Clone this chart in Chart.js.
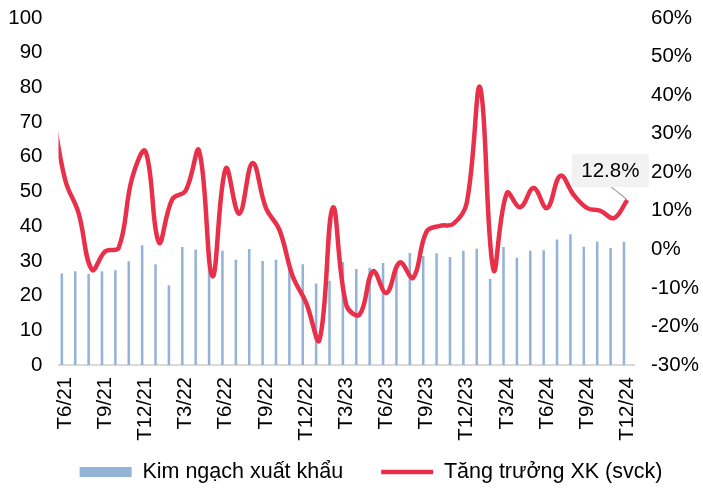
<!DOCTYPE html>
<html>
<head>
<meta charset="utf-8">
<script src="https://cdn.jsdelivr.net/npm/chart.js@4/dist/chart.umd.min.js"></script>
<style>
  html, body { margin: 0; padding: 0; background: #ffffff; }
  #wrap { width: 703px; height: 489px; }
</style>
</head>
<body>
<div id="wrap"><canvas id="c" width="703" height="489"></canvas></div>
<script>
// ---- Data ----
const categories = [
  'T6/21','T7/21','T8/21','T9/21','T10/21','T11/21','T12/21',
  'T1/22','T2/22','T3/22','T4/22','T5/22','T6/22','T7/22','T8/22','T9/22','T10/22','T11/22','T12/22',
  'T1/23','T2/23','T3/23','T4/23','T5/23','T6/23','T7/23','T8/23','T9/23','T10/23','T11/23','T12/23',
  'T1/24','T2/24','T3/24','T4/24','T5/24','T6/24','T7/24','T8/24','T9/24','T10/24','T11/24','T12/24'
];
// Kim ngạch xuất khẩu (left axis)
const exportValue = [
  26.4, 27.0, 26.2, 27.0, 27.3, 29.9, 34.5,
  29.0, 23.0, 34.0, 33.3, 30.9, 32.9, 30.3, 33.4, 30.0, 30.3, 29.0, 29.0,
  23.5, 24.3, 29.7, 27.7, 28.0, 29.4, 29.1, 32.3, 31.4, 32.2, 31.1, 32.9,
  33.5, 24.8, 34.0, 30.9, 32.9, 33.1, 36.2, 37.7, 34.1, 35.6, 33.7, 35.5
];
// Tăng trưởng XK (svck), % (right axis)
const growth = [
  18.0, 9.4, -5.3, -0.5, 0.4, 18.5, 25.4,
  1.8, 13.0, 15.2, 25.6, -7.0, 21.0, 9.2, 22.4, 10.7, 5.1, -7.0, -13.8,
  -23.5, 10.8, -14.4, -16.9, -5.7, -11.3, -3.4, -7.4, 4.6, 6.1, 6.6, 12.0,
  42.0, -5.3, 14.6, 10.9, 15.9, 10.7, 19.1, 14.1, 10.7, 10.0, 8.1, 12.8
];
// value of the month before T6/21 (only its clipped tail is visible at the left edge)
const growthBefore = 37;
const leftTicks = [0, 10, 20, 30, 40, 50, 60, 70, 80, 90, 100];
const rightTicks = [-30, -20, -10, 0, 10, 20, 30, 40, 50, 60];

// ---- Chart ----
const FONT = '"Liberation Sans", Arial, sans-serif';
const BAR_COLOR = '#95B3D7';
const LINE_COLOR = '#E9304B';
const LEGEND_PAD = 38;
const LEGEND_FONT = 21.5;

const linePoints = [{ x: -1, y: growthBefore }].concat(growth.map((v, i) => ({ x: i, y: v })));

const legendPlace = {
  id: 'legendPlace',
  afterUpdate(chart) {
    const lg = chart.legend;
    if (!lg) return;
    lg.left += -1;
    lg.right += 40;
    lg.top = 472 - LEGEND_PAD - LEGEND_FONT / 2;
    lg.bottom = chart.height;
    lg.height = lg.bottom - lg.top;
    lg.width = lg.right - lg.left;
    lg.adjustHitBoxes();
  }
};

const lastLabel = {
  id: 'lastLabel',
  afterDatasetsDraw(chart) {
    const meta = chart.getDatasetMeta(1);
    const pt = meta.data[meta.data.length - 1];
    if (!pt) return;
    const ctx = chart.ctx;
    const x = pt.x, y = pt.y;
    const bw = 77, bh = 33;
    const cx = x - 17, cy = y - 29.5;
    ctx.save();
    ctx.strokeStyle = '#A6A6A6';
    ctx.lineWidth = 1.2;
    ctx.beginPath();
    ctx.moveTo(cx + 1, cy + bh / 2);
    ctx.lineTo(x - 1, y - 1);
    ctx.stroke();
    ctx.fillStyle = '#F2F2F2';
    ctx.fillRect(cx - bw / 2, cy - bh / 2, bw, bh);
    ctx.fillStyle = '#000000';
    ctx.font = '20.5px ' + FONT;
    ctx.textAlign = 'center';
    ctx.textBaseline = 'middle';
    ctx.fillText(growth[growth.length - 1].toFixed(1) + '%', cx, cy + 1);
    ctx.restore();
  }
};

new Chart(document.getElementById('c'), {
  type: 'bar',
  data: {
    labels: categories,
    datasets: [
      {
        type: 'bar',
        label: 'Kim ngạch xuất khẩu',
        data: exportValue,
        backgroundColor: BAR_COLOR,
        borderWidth: 0,
        barPercentage: 0.38,
        categoryPercentage: 1.0,
        xAxisID: 'x',
        yAxisID: 'y',
        order: 1,
        pointStyle: 'rect'
      },
      {
        type: 'line',
        label: 'Tăng trưởng XK (svck)',
        data: linePoints,
        borderColor: LINE_COLOR,
        backgroundColor: LINE_COLOR,
        borderWidth: 4.5,
        pointRadius: 0,
        tension: 0.4,
        fill: false,
        clip: 0,
        xAxisID: 'xl',
        yAxisID: 'y1',
        order: 0,
        pointStyle: 'line'
      }
    ]
  },
  options: {
    responsive: false,
    animation: false,
    events: [],
    layout: { padding: { left: 0, right: 0, top: 0, bottom: 0 } },
    plugins: {
      tooltip: { enabled: false },
      legend: {
        position: 'bottom',
        maxHeight: 46,
        labels: {
          usePointStyle: true,
          pointStyleWidth: 52,
          boxHeight: 10,
          padding: LEGEND_PAD,
          color: '#000000',
          font: { family: FONT, size: LEGEND_FONT },
          sort: (a, b) => a.datasetIndex - b.datasetIndex
        }
      }
    },
    scales: {
      x: {
        type: 'category',
        offset: true,
        grid: { display: false, drawTicks: false },
        border: { display: true, color: '#D9D9D9', width: 2 },
        afterFit: (s) => { s.height = 78; },
        ticks: {
          autoSkip: false,
          minRotation: 90,
          maxRotation: 90,
          padding: 12,
          color: '#000000',
          font: { family: FONT, size: 20.5 },
          callback: function (v, i) { return i % 3 === 0 ? categories[i] : ''; }
        }
      },
      xl: {
        type: 'linear',
        display: false,
        offset: false,
        min: -0.5,
        max: categories.length - 0.5
      },
      y: {
        position: 'left',
        min: leftTicks[0],
        max: leftTicks[leftTicks.length - 1],
        afterBuildTicks: (s) => { s.ticks = leftTicks.map(v => ({ value: v })); },
        afterFit: (s) => { s.width = 58.5; s.paddingTop = 18; s.paddingBottom = 0; },
        grid: { display: false, drawTicks: false },
        border: { display: false },
        ticks: {
          padding: 16,
          color: '#000000',
          font: { family: FONT, size: 20.5 }
        }
      },
      y1: {
        position: 'right',
        min: rightTicks[0],
        max: rightTicks[rightTicks.length - 1],
        afterBuildTicks: (s) => { s.ticks = rightTicks.map(v => ({ value: v })); },
        afterFit: (s) => { s.width = 69; s.paddingTop = 18; s.paddingBottom = 0; },
        grid: { display: false, drawTicks: false },
        border: { display: false },
        ticks: {
          padding: 17,
          color: '#000000',
          font: { family: FONT, size: 20.5 },
          callback: (v) => v + '%'
        }
      }
    }
  },
  plugins: [legendPlace, lastLabel]
});
</script>
</body>
</html>
